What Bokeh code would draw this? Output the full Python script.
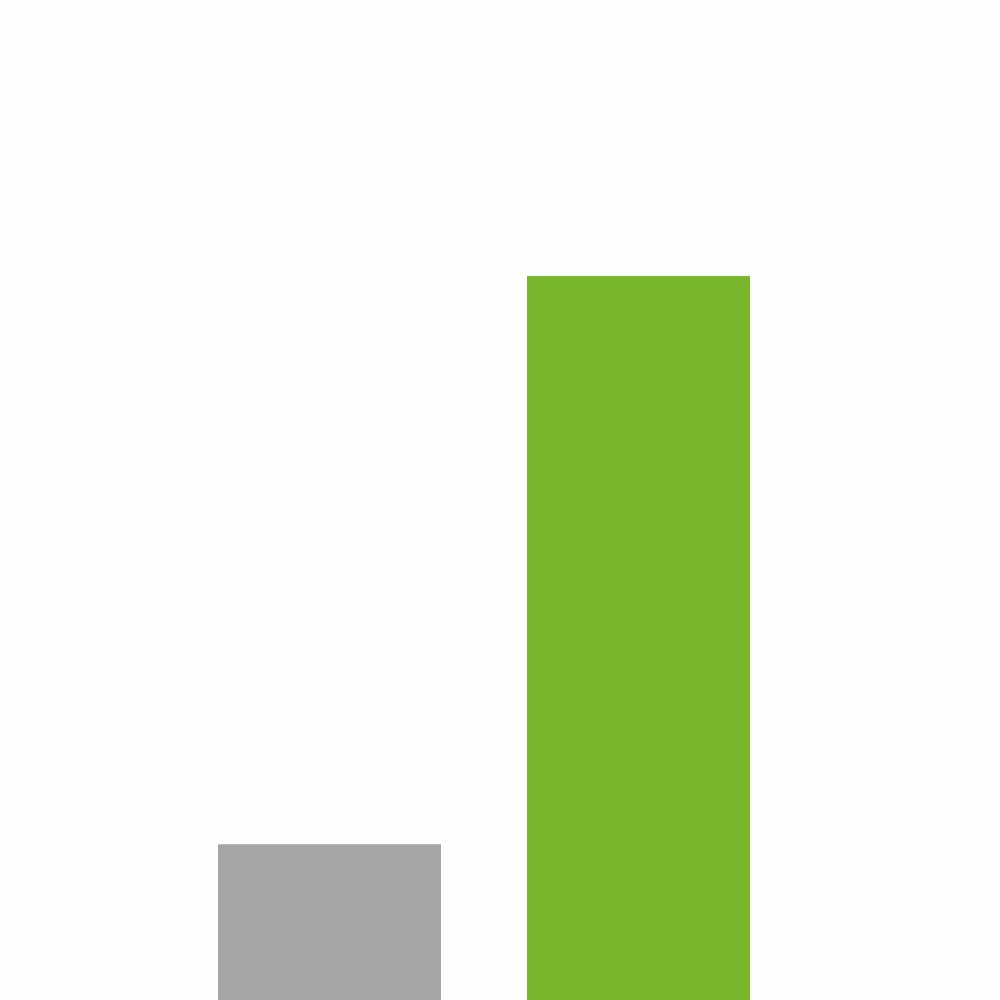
from bokeh.models import ColumnDataSource, Range1d
from bokeh.plotting import figure
from bokeh.embed import file_html
from bokeh.resources import INLINE

categories = ["Before", "After"]
values = [21.5, 100.0]
colors = ["#A5A5A5", "#78B72B"]

source = ColumnDataSource(dict(
    x=list(range(len(categories))),
    top=values,
    color=colors,
    label=categories,
))

p = figure(width=1000, height=1000, output_backend="svg", toolbar_location=None,
           x_range=Range1d(-1.0647, 2.1715), y_range=Range1d(0, 138.1),
           min_border=0)
p.vbar(x="x", top="top", width=0.7184, bottom=0, color="color", source=source)

p.axis.visible = False
p.grid.visible = False
p.outline_line_color = None
p.background_fill_color = "#FEFEFE"
p.border_fill_color = "#FEFEFE"

open("out.html", "w").write(file_html(p, INLINE))
